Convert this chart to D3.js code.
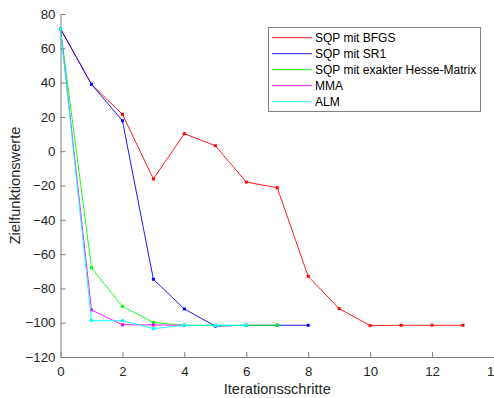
<!DOCTYPE html>
<html lang="de">
<head>
<meta charset="UTF-8">
<title>Zielfunktionswerte</title>
<script src="https://d3js.org/d3.v7.min.js"></script>
<style>
  body { margin: 0; background: #fff; }
  svg { display: block; font-family: Arial, "Liberation Sans", Helvetica, sans-serif; }
</style>
</head>
<body>
<div id="chart"></div>
<script>
// data
const seriesNames = ["SQP mit BFGS", "SQP mit SR1", "SQP mit exakter Hesse-Matrix", "MMA", "ALM"];
const seriesColors = ["#ff0000", "#0000ff", "#00ff00", "#ff00ff", "#00ffff"];
const bfgs = [71.4, 39, 21.5, -16.2, 10.2, 3.2, -18, -21.3, -73, -91.8, -101.7, -101.5, -101.5, -101.5];
const sr1 = [71.4, 39, 17.8, -74.7, -92, -102, -101.5, -101.5, -101.5];
const exakt = [71.4, -67.9, -90.5, -99.8, -101.5, -101.5, -101.5, -101.5];
const mma = [71.4, -92.6, -101.2, -101.3, -101.5];
const alm = [71.4, -98.8, -98.8, -103.5, -101.5, -101.5, -101.5];
const allSeries = [bfgs, sr1, exakt, mma, alm];
const xTicks = [0, 2, 4, 6, 8, 10, 12, 14];
const yTicks = [80, 60, 40, 20, 0, -20, -40, -60, -80, -100, -120];

const width = 494, height = 398;
const margin = { top: 14, right: 0, bottom: 41, left: 60.5 };

const svg = d3.select("#chart").append("svg")
    .attr("width", width)
    .attr("height", height);

const x = d3.scaleLinear().domain([0, 14]).range([margin.left, width - margin.right]);
const y = d3.scaleLinear().domain([-120, 80]).range([height - margin.bottom, margin.top]);

const textColor = "#262626";
const axisColor = "#808080";

// x axis (ticks pointing inward)
const xAxis = svg.append("g")
    .attr("transform", "translate(0," + y(-120) + ")")
    .call(d3.axisBottom(x).tickValues(xTicks).tickSize(-5).tickPadding(10).tickSizeOuter(0));

// y axis
const yAxis = svg.append("g")
    .attr("transform", "translate(" + x(0) + ",0)")
    .call(d3.axisLeft(y).tickValues(yTicks).tickSize(-5).tickPadding(10).tickSizeOuter(0));

[xAxis, yAxis].forEach(g => {
    g.select(".domain").attr("stroke", axisColor).attr("stroke-width", 1);
    g.selectAll(".tick line").attr("stroke", axisColor).attr("stroke-width", 1);
    g.selectAll(".tick text").attr("fill", textColor).style("font-size", "13.3px")
        .style("font-family", "Arial, 'Liberation Sans', sans-serif");
});
xAxis.selectAll(".tick text").attr("dy", "0.71em").attr("y", 10);
yAxis.selectAll(".tick text").attr("x", -5);

// axis labels
svg.append("text")
    .attr("x", (x(0) + x(14)) / 2)
    .attr("y", 394)
    .attr("text-anchor", "middle")
    .attr("fill", textColor)
    .style("font-size", "14.6px")
    .text("Iterationsschritte");

svg.append("text")
    .attr("transform", "translate(20," + (y(80) + y(-120)) / 2 + ") rotate(-90)")
    .attr("text-anchor", "middle")
    .attr("fill", textColor)
    .style("font-size", "14.6px")
    .text("Zielfunktionswerte");

// lines + markers
const line = d3.line().x((d, i) => x(i)).y(d => y(d));

allSeries.forEach((vals, k) => {
    const g = svg.append("g");
    g.append("path")
        .datum(vals)
        .attr("d", line)
        .attr("fill", "none")
        .attr("stroke", seriesColors[k])
        .attr("stroke-width", 0.9);
    g.selectAll("rect")
        .data(vals)
        .enter()
        .append("rect")
        .attr("x", (d, i) => x(i) - 1.5)
        .attr("y", d => y(d) - 1.5)
        .attr("width", 3)
        .attr("height", 3)
        .attr("fill", seriesColors[k]);
});

// legend
const legend = svg.append("g").attr("transform", "translate(268,27)");
legend.append("rect")
    .attr("x", 0.5).attr("y", 0.5)
    .attr("width", 212).attr("height", 84)
    .attr("fill", "#fff")
    .attr("stroke", "#808080")
    .attr("stroke-width", 1);

seriesNames.forEach((name, k) => {
    const cy = 10.7 + k * 16;
    legend.append("line")
        .attr("x1", 4).attr("x2", 44)
        .attr("y1", cy).attr("y2", cy)
        .attr("stroke", seriesColors[k])
        .attr("stroke-width", 0.9);
    legend.append("text")
        .attr("x", 47)
        .attr("y", cy)
        .attr("dy", "0.35em")
        .attr("fill", "#000")
        .style("font-size", "12px")
        .text(name);
});
</script>
</body>
</html>
